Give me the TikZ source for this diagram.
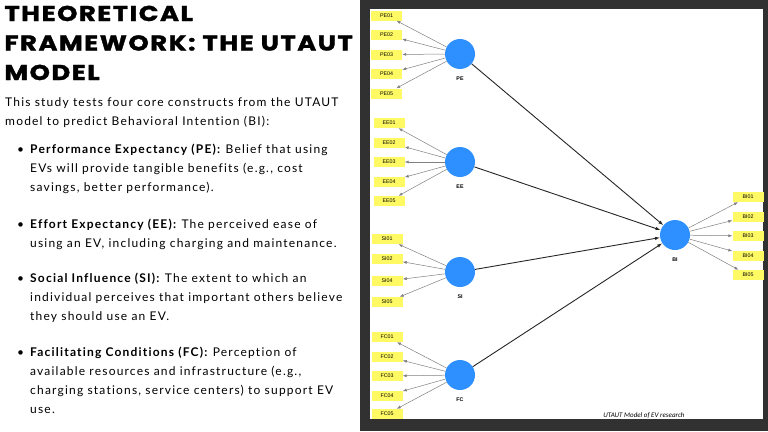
\documentclass[tikz,border=0pt]{standalone}
\usepackage{fontspec}
\setmainfont{Lato}
\newfontfamily\titlefont{Poppins}[LetterSpace=6, FakeBold=1.5]
\newfontfamily\bodyfont{Lato}[LetterSpace=10, Ligatures={NoCommon}]
\newfontfamily\diagfont{Liberation Sans}
\newfontfamily\capfont{Carlito}
\usepackage{tikz}
\usetikzlibrary{arrows.meta}
\definecolor{panelGray}{HTML}{313131}
\definecolor{latentBlue}{HTML}{2E8FFF}
\definecolor{itemYellow}{HTML}{FFFA64}

\begin{document}
\begin{tikzpicture}[x=1pt, y=-1pt,
	latent/.style={circle, fill=latentBlue, minimum size=30pt, inner sep=0},
	indicator/.style={fill=itemYellow, minimum width=31pt, minimum height=10pt, inner sep=0, font=\diagfont\fontsize{5.3}{6}\selectfont},
	tag/.style={inner sep=0, font=\diagfont\bfseries\fontsize{5.3}{6}\selectfont},
	loading/.style={draw=gray, line width=0.5pt, -{Latex[length=4pt,width=3pt]}},
	structural/.style={draw=black!85, line width=0.9pt, -{Latex[length=5pt,width=3.5pt]}},
	para/.style={anchor=base west, inner sep=0, align=left, font=\bodyfont\fontsize{12}{18.7}\selectfont}]
	\useasboundingbox (0,0) rectangle (768,431);
	% \draw[red] (0,0) grid[step=50] (768,431);
	\fill[panelGray] (360,0) rectangle (768,431);
	\fill[white] (370,9) rectangle (763,419);

	% base west = baseline of the last line
	\node[anchor=base west, inner sep=0, align=left, xscale=1.2, transform shape, font=\titlefont\bfseries\fontsize{21.5}{29.5}\selectfont] (title) at (4.2,80) {THEORETICAL\\FRAMEWORK: THE UTAUT\\MODEL};
	\node[para] (intro) at (5,125) {This study tests four core constructs from the UTAUT\\model to predict Behavioral Intention (BI):};
	\node[para] (peText) at (30,191) {\llap{•\hspace{6pt}}\textbf{Performance Expectancy (PE):} Belief that using\\EVs will provide tangible benefits (e.g., cost\\savings, better performance).};
	\node[para] (eeText) at (30,247) {\llap{•\hspace{6pt}}\textbf{Effort Expectancy (EE):} The perceived ease of\\using an EV, including charging and maintenance.};
	\node[para] (siText) at (30,320) {\llap{•\hspace{6pt}}\textbf{Social Influence (SI):} The extent to which an\\individual perceives that important others believe\\they should use an EV.};
	\node[para] (fcText) at (30,413) {\llap{•\hspace{6pt}}\textbf{Facilitating Conditions (FC):} Perception of\\available resources and infrastructure (e.g.,\\charging stations, service centers) to support EV\\use.};

	\node[latent] (PE) at (460,54) {};
	\node[latent] (EE) at (460,162) {};
	\node[latent] (SI) at (460,272) {};
	\node[latent] (FC) at (460,375) {};
	\node[latent] (BI) at (675,235) {};
	\node[tag, below=22.5pt] (PElab) at (PE) {PE};
	\node[tag, below=22.5pt] (EElab) at (EE) {EE};
	\node[tag, below=22.5pt] (SIlab) at (SI) {SI};
	\node[tag, below=22.5pt] (FClab) at (FC) {FC};
	\node[tag, below=22.5pt] (BIlab) at (BI) {BI};

	\node[indicator] (PE01) at (386.5,15.5) {PE01};
	\node[indicator] (PE02) at (386.5,35) {PE02};
	\node[indicator] (PE03) at (386.5,54.5) {PE03};
	\node[indicator] (PE04) at (386.5,74) {PE04};
	\node[indicator] (PE05) at (386.5,93.5) {PE05};
	\node[indicator] (EE01) at (389,123) {EE01};
	\node[indicator] (EE02) at (389,142.5) {EE02};
	\node[indicator] (EE03) at (389,162) {EE03};
	\node[indicator] (EE04) at (389,181.5) {EE04};
	\node[indicator] (EE05) at (389,201) {EE05};
	\node[indicator] (SI01) at (387,239) {SI01};
	\node[indicator] (SI02) at (387,259) {SI02};
	\node[indicator] (SI04) at (387,281) {SI04};
	\node[indicator] (SI05) at (387,302) {SI05};
	\node[indicator] (FC01) at (387,337) {FC01};
	\node[indicator] (FC02) at (387,356.5) {FC02};
	\node[indicator] (FC03) at (387,376) {FC03};
	\node[indicator] (FC04) at (387,395.5) {FC04};
	\node[indicator] (FC05) at (387,414) {FC05};
	\node[indicator] (BI01) at (748,197) {BI01};
	\node[indicator] (BI02) at (748,216.5) {BI02};
	\node[indicator] (BI03) at (748,236) {BI03};
	\node[indicator] (BI04) at (748,255.5) {BI04};
	\node[indicator] (BI05) at (748,275) {BI05};

	\draw[loading] (PE) -- (PE01);
	\draw[loading] (PE) -- (PE02);
	\draw[loading] (PE) -- (PE03);
	\draw[loading] (PE) -- (PE04);
	\draw[loading] (PE) -- (PE05);
	\draw[loading] (EE) -- (EE01);
	\draw[loading] (EE) -- (EE02);
	\draw[loading] (EE) -- (EE03);
	\draw[loading] (EE) -- (EE04);
	\draw[loading] (EE) -- (EE05);
	\draw[loading] (SI) -- (SI01);
	\draw[loading] (SI) -- (SI02);
	\draw[loading] (SI) -- (SI04);
	\draw[loading] (SI) -- (SI05);
	\draw[loading] (FC) -- (FC01);
	\draw[loading] (FC) -- (FC02);
	\draw[loading] (FC) -- (FC03);
	\draw[loading] (FC) -- (FC04);
	\draw[loading] (FC) -- (FC05);
	\draw[loading] (BI) -- (BI01);
	\draw[loading] (BI) -- (BI02);
	\draw[loading] (BI) -- (BI03);
	\draw[loading] (BI) -- (BI04);
	\draw[loading] (BI) -- (BI05);

	\draw[structural] (PE) -- (BI);
	\draw[structural] (EE) -- (BI);
	\draw[structural] (SI) -- (BI);
	\draw[structural] (FC) -- (BI);

	\node[font=\capfont\itshape\fontsize{7}{8}\selectfont] (caption) at (644,415) {UTAUT Model of EV research};

\end{tikzpicture}
\end{document}
